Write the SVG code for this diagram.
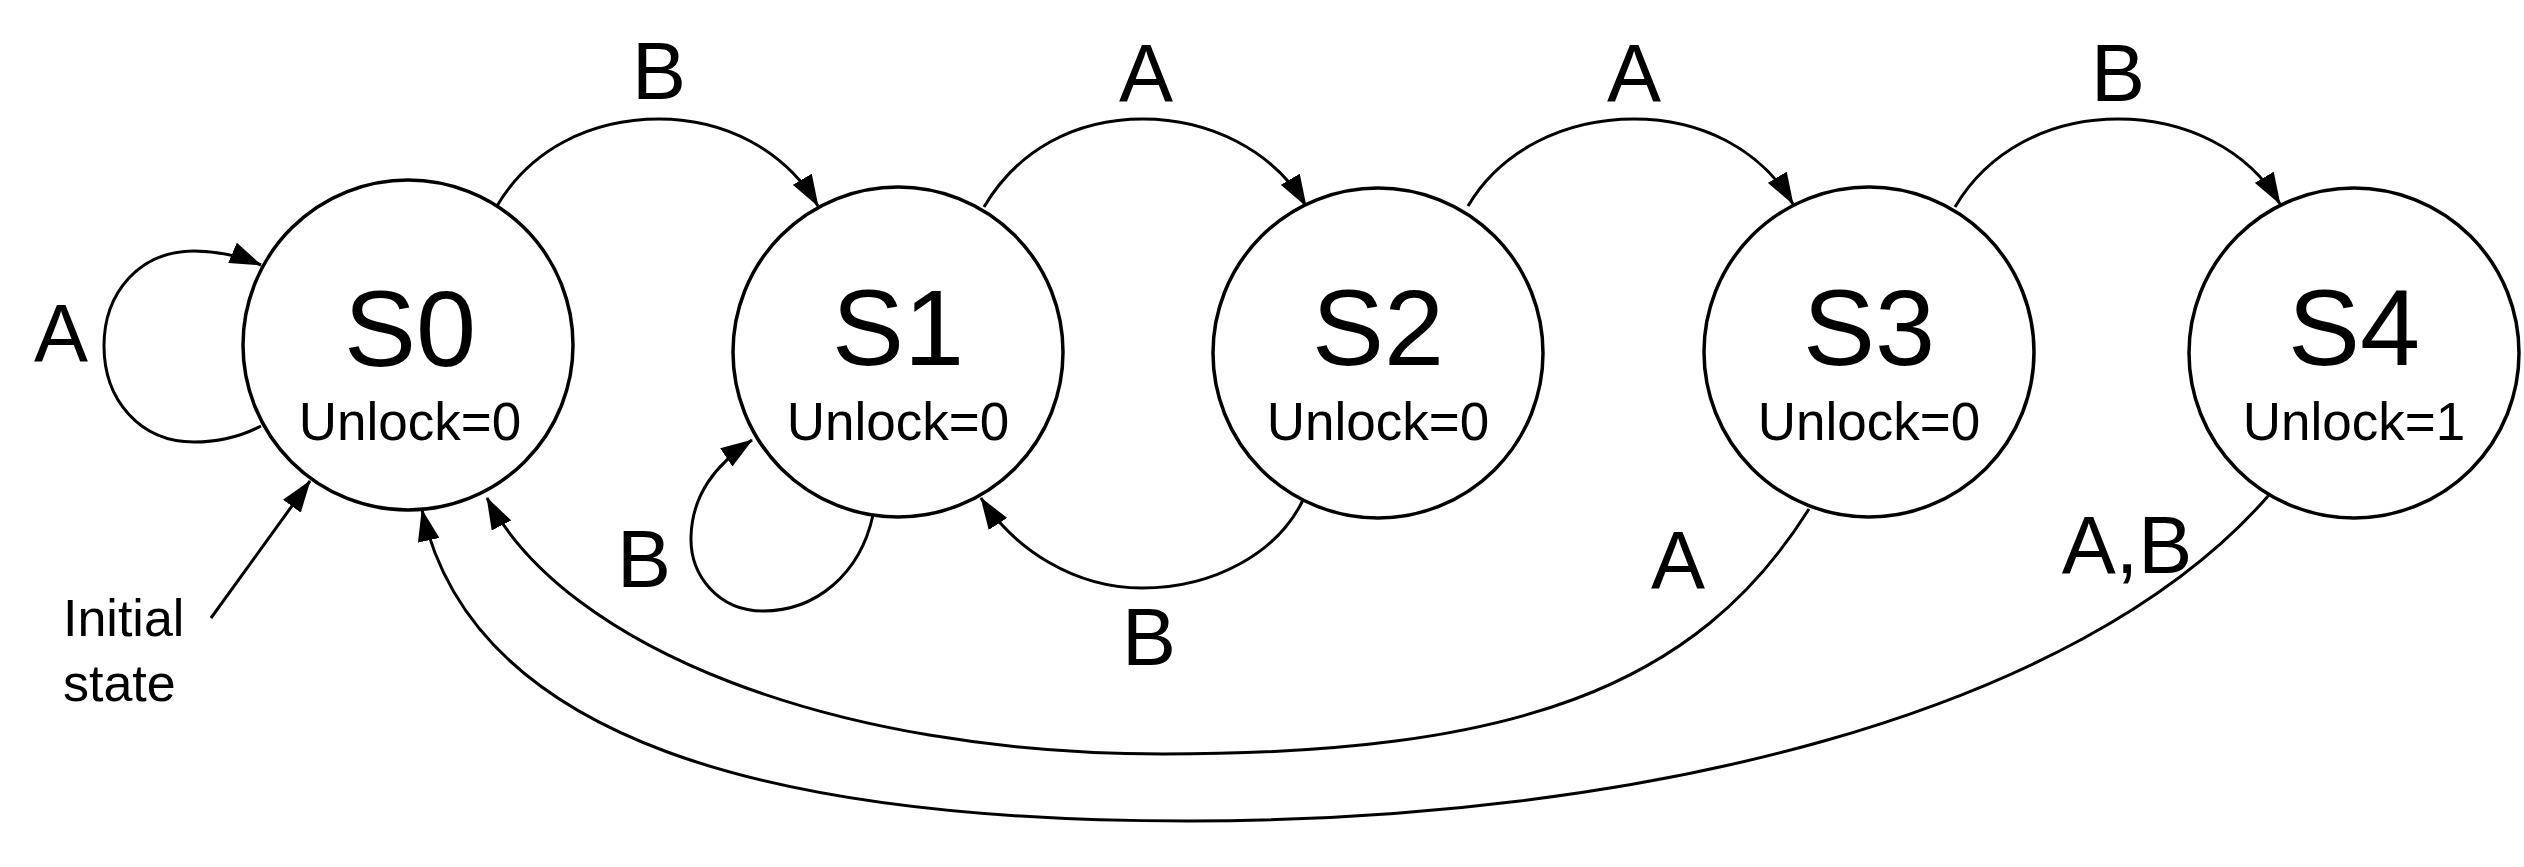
<svg xmlns="http://www.w3.org/2000/svg" width="2524" height="867" viewBox="0 0 2524 867">
<style>
.st{fill:#fff;stroke:#000;stroke-width:3.5}
.big{font-family:"Liberation Sans",Arial,sans-serif;font-size:108px;text-anchor:middle;fill:#000}
.sub{font-family:"Liberation Sans",Arial,sans-serif;font-size:53px;text-anchor:middle;fill:#000}
.lbl{font-family:"Liberation Sans",Arial,sans-serif;font-size:81px;text-anchor:middle;fill:#000}
.note{font-family:"Liberation Sans",Arial,sans-serif;font-size:52px;fill:#000}
.e{fill:none;stroke:#000;stroke-width:3;marker-end:url(#arr)}
</style>
<defs>
<marker id="arr" markerUnits="userSpaceOnUse" markerWidth="32" markerHeight="22" refX="31" refY="11" orient="auto">
<path d="M0,0 L32,11 L0,22 Z" fill="#000"/>
</marker>
</defs>
<rect width="2524" height="867" fill="#fff"/>
<g id="connectors">
<path class="e" d="M261,426 C240,437 218,442 194,442 C140,442 104,400 104,346 C104,292 140,251 194,251 C220,251 240,256 261,265"/>
<path class="e" d="M211,618 L310,481"/>
<path class="e" d="M497,206 C530,150 590,119 659,119 C725,119 785,150 818,206"/>
<path class="e" d="M984,207 C1017,151 1074,119 1143,119 C1209,119 1273,150 1306,206"/>
<path class="e" d="M1468,206 C1501,150 1565,119 1634,119 C1700,119 1760,148 1793,204"/>
<path class="e" d="M1955,207 C1988,151 2049,119 2118,119 C2184,119 2247,148 2280,204"/>
<path class="e" d="M873,515 C860,575 815,611 763,611 C718,611 690,575 691,537 C692,495 715,465 752,440"/>
<path class="e" d="M1303,500 C1278,552 1215,588 1142,588 C1075,588 1015,550 981,498"/>
<path class="e" d="M1809,509 C1696,689 1513,754 1163,754 C833,754 566,648 487,498"/>
<path class="e" d="M2269,495 C2078,715 1638,821 1188,821 C768,821 473,740 422,510"/>
</g>
<g id="S0">
<circle class="st" cx="408" cy="345" r="165"/>
<text class="big" x="410" y="366">S0</text>
<text class="sub" x="410" y="440">Unlock=0</text>
</g>
<g id="S1">
<circle class="st" cx="898" cy="352" r="165"/>
<text class="big" x="898" y="365">S1</text>
<text class="sub" x="898" y="440">Unlock=0</text>
</g>
<g id="S2">
<circle class="st" cx="1378" cy="353" r="165"/>
<text class="big" x="1378" y="365">S2</text>
<text class="sub" x="1378" y="440">Unlock=0</text>
</g>
<g id="S3">
<circle class="st" cx="1869" cy="352" r="165"/>
<text class="big" x="1869" y="365">S3</text>
<text class="sub" x="1869" y="440">Unlock=0</text>
</g>
<g id="S4">
<circle class="st" cx="2354" cy="353" r="165"/>
<text class="big" x="2354" y="365">S4</text>
<text class="sub" x="2354" y="440">Unlock=1</text>
</g>
<g id="labels">
<text class="lbl" x="61" y="361">A</text>
<text class="lbl" x="659" y="99">B</text>
<text class="lbl" x="1146" y="101">A</text>
<text class="lbl" x="1634" y="101">A</text>
<text class="lbl" x="2118" y="101">B</text>
<text class="lbl" x="644" y="587">B</text>
<text class="lbl" x="1149" y="665">B</text>
<text class="lbl" x="1678" y="588">A</text>
<text class="lbl" x="2127" y="573">A,B</text>
<text class="note" x="63" y="636">Initial</text>
<text class="note" x="63" y="701">state</text>
</g>
</svg>
